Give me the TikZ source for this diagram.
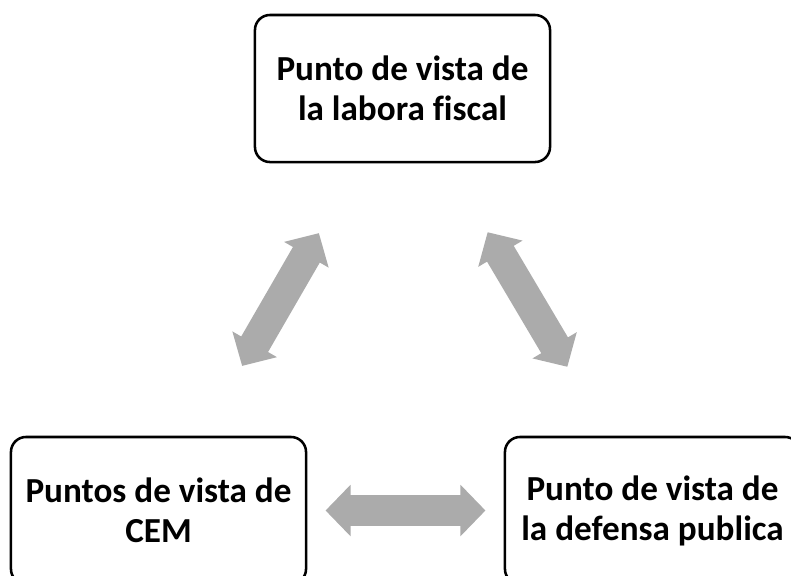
\documentclass[tikz,border=0pt]{standalone}
\usepackage{fontspec}
\setmainfont[Ligatures = NoCommon]{Carlito}
\usetikzlibrary{arrows.meta}

\definecolor{arrowgray}{RGB}{171,171,171}

\tikzset{
	viewbox/.style = {draw, line width = 1.8pt, rounded corners = 0.375cm, minimum width = 7.375cm, minimum height = 3.675cm, align = center, font = \fontsize{25}{28.5}\selectfont\bfseries, execute at begin node = {\rule{0pt}{29pt}}},
	linkarrow/.style = {draw = arrowgray, line width = 0.775cm, {Triangle[length = 0.625cm, width = 1.25cm]}-{Triangle[length = 0.625cm, width = 1.25cm]}, shorten < = 4.175cm, shorten > = 4.175cm}
}

\begin{document}
\begin{tikzpicture}[x = 0.025cm, y = -0.025cm]
				\useasboundingbox (0, 0) rectangle (791, 575);
				\clip (0, 0) rectangle (791, 575);
				
				\node [viewbox] (fiscal) at (402.5, 88.5) {Punto de vista de\\la labora fiscal};
				\node [viewbox] (cem) at (158.5, 510.5) {Puntos de vista de\\CEM};
				\node [viewbox] (defensa) at (652.5, 510.5) {Punto de vista de\\la defensa publica};
				
				\draw [linkarrow] (cem.center) -- (fiscal.center);
				\draw [linkarrow] (fiscal.center) -- (defensa.center);
				\draw [linkarrow] (cem.center) -- (defensa.center);
			\end{tikzpicture}
\end{document}
